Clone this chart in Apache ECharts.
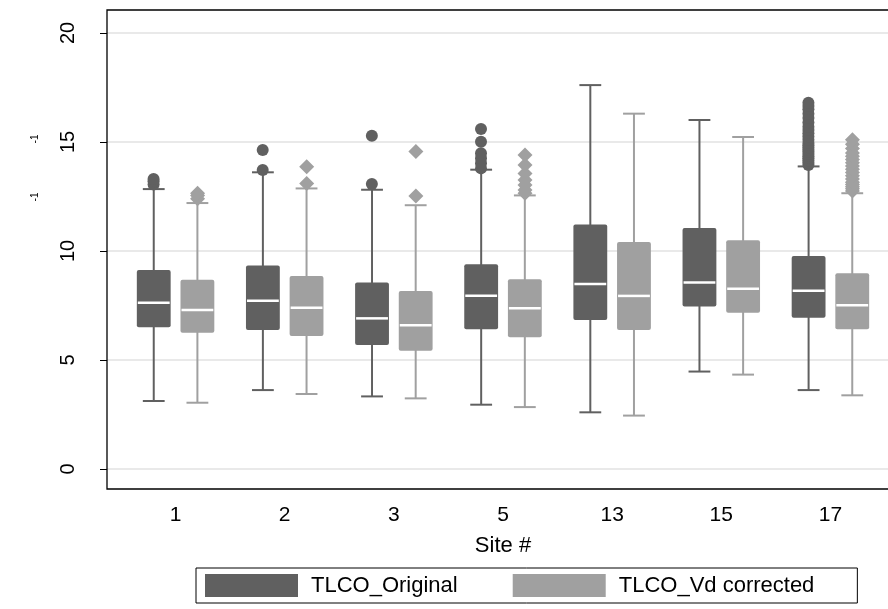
<!DOCTYPE html>
<html lang="en">

<head>
    <meta charset="UTF-8">
    <title>TLCO by site</title>
    <style>
        * {
            margin: 0;
            padding: 0;
        }

        html,
        body {
            height: 100%;
            background: #fff;
        }

        #box {
            width: 888px;
            height: 609px;
        }
    </style>
    <script src="https://cdn.jsdelivr.net/npm/echarts@6/dist/echarts.min.js"></script>
</head>

<body>
    <div id="box"></div>

    <script>
        // site numbers on the x axis
        var sites = ['1', '2', '3', '5', '13', '15', '17'];
        var yTicks = [0, 5, 10, 15, 20];

        // [lower whisker, q1, median, q3, upper whisker]
        var origBox = [
            [3.12, 6.50, 7.63, 9.13, 12.84],
            [3.62, 6.38, 7.72, 9.33, 13.61],
            [3.33, 5.69, 6.91, 8.56, 12.81],
            [2.95, 6.41, 7.95, 9.39, 13.73],
            [2.60, 6.83, 8.49, 11.21, 17.61],
            [4.47, 7.45, 8.56, 11.06, 16.01],
            [3.62, 6.94, 8.18, 9.77, 13.88]
        ];
        var vdBox = [
            [3.04, 6.25, 7.29, 8.68, 12.20],
            [3.44, 6.10, 7.40, 8.85, 12.87],
            [3.24, 5.43, 6.59, 8.17, 12.10],
            [2.84, 6.04, 7.37, 8.70, 12.55],
            [2.45, 6.38, 7.94, 10.41, 16.30],
            [4.33, 7.17, 8.27, 10.49, 15.23],
            [3.38, 6.41, 7.51, 8.98, 12.65]
        ];

        // outside values, one list per site
        var origOut = [
            [13.05, 13.2, 13.3],
            [13.72, 14.63],
            [13.07, 15.29],
            [13.79, 14.02, 14.25, 14.48, 15.01, 15.6],
            [],
            [],
            [13.95, 14.05, 14.15, 14.25, 14.35, 14.45, 14.55, 14.65, 14.75, 14.85, 14.95,
                15.1, 15.25, 15.4, 15.55, 15.7, 15.9, 16.1, 16.3, 16.5, 16.65, 16.8]
        ];
        var vdOut = [
            [12.4, 12.55, 12.65],
            [13.1, 13.87],
            [12.52, 14.56],
            [12.65, 12.8, 13.03, 13.26, 13.56, 13.94, 14.4],
            [],
            [],
            [12.75, 12.85, 12.95, 13.05, 13.15, 13.3, 13.45, 13.6, 13.75, 13.9, 14.05,
                14.2, 14.35, 14.5, 14.7, 14.9, 15.1]
        ];

        var darkGrey = '#606060';
        var lightGrey = '#a0a0a0';
        var font = 'Liberation Sans, Arial, sans-serif';

        function boxData(list) {
            return list.map(function (b, i) {
                return [i, b[0], b[1], b[2], b[3], b[4]];
            });
        }

        function outData(list) {
            var res = [];
            list.forEach(function (vals, i) {
                vals.forEach(function (v) {
                    res.push([i, v]);
                });
            });
            return res;
        }

        // draws one box with whiskers, shifted inside the category band
        function makeRender(shift, color) {
            return function (params, api) {
                var idx = api.value(0);
                var band = api.size([1, 0])[0];
                var x = api.coord([idx, 0])[0] + band * shift;
                var yLo = api.coord([idx, api.value(1)])[1];
                var yQ1 = api.coord([idx, api.value(2)])[1];
                var yMed = api.coord([idx, api.value(3)])[1];
                var yQ3 = api.coord([idx, api.value(4)])[1];
                var yHi = api.coord([idx, api.value(5)])[1];
                var bw = band * 0.31;
                var cw = band * 0.2;
                var line = { stroke: color, lineWidth: 2 };
                return {
                    type: 'group',
                    children: [
                        { type: 'line', shape: { x1: x, y1: yLo, x2: x, y2: yHi }, style: line },
                        { type: 'line', shape: { x1: x - cw / 2, y1: yLo, x2: x + cw / 2, y2: yLo }, style: line },
                        { type: 'line', shape: { x1: x - cw / 2, y1: yHi, x2: x + cw / 2, y2: yHi }, style: line },
                        {
                            type: 'rect',
                            shape: { x: x - bw / 2, y: yQ3, width: bw, height: yQ1 - yQ3, r: 2 },
                            style: { fill: color }
                        },
                        {
                            type: 'line',
                            shape: { x1: x - bw / 2 + 1, y1: yMed, x2: x + bw / 2 - 1, y2: yMed },
                            style: { stroke: '#fff', lineWidth: 2.5 }
                        }
                    ]
                };
            };
        }

        var myChart = echarts.init(document.getElementById('box'));

        myChart.setOption({
            animation: false,
            textStyle: { fontFamily: font },
            grid: [
                { left: 121, right: 3, top: 33, bottom: 140 },
                { left: 107, right: 0, top: 33, bottom: 140 }
            ],
            graphic: [
                {
                    type: 'rect',
                    shape: { x: 107, y: 10, width: 820, height: 479 },
                    style: { fill: 'none', stroke: '#000', lineWidth: 1.3 },
                    z: 10
                },
                {
                    type: 'text', x: 35, y: 139, rotation: Math.PI / 2,
                    style: { text: '-1', fontSize: 10, fill: '#000', fontFamily: font, align: 'center', verticalAlign: 'middle' }
                },
                {
                    type: 'text', x: 35, y: 197, rotation: Math.PI / 2,
                    style: { text: '-1', fontSize: 10, fill: '#000', fontFamily: font, align: 'center', verticalAlign: 'middle' }
                }
            ],
            legend: {
                data: ['TLCO_Original', 'TLCO_Vd corrected'],
                left: 196,
                top: 568,
                padding: [6, 43, 6, 9],
                itemWidth: 93,
                itemHeight: 23,
                itemGap: 55,
                icon: 'rect',
                borderColor: '#000',
                borderWidth: 1,
                textStyle: { fontSize: 22, color: '#000', fontFamily: font, padding: [0, 0, 0, 8] }
            },
            xAxis: [
                {
                    type: 'category',
                    data: sites,
                    gridIndex: 0,
                    offset: 20,
                    axisLine: { show: false },
                    axisTick: { show: false },
                    axisLabel: { fontSize: 21, color: '#000', margin: 16 },
                    name: 'Site #',
                    nameLocation: 'middle',
                    nameGap: 46,
                    nameTextStyle: { fontSize: 22, color: '#000' }
                },
                {
                    type: 'category',
                    data: sites,
                    gridIndex: 1,
                    show: false
                }
            ],
            yAxis: [
                {
                    type: 'value',
                    gridIndex: 0,
                    min: 0,
                    max: 20,
                    interval: 5,
                    show: false
                },
                {
                    type: 'value',
                    gridIndex: 1,
                    min: yTicks[0],
                    max: yTicks[yTicks.length - 1],
                    interval: 5,
                    axisLine: { show: false },
                    axisTick: { show: true, length: 7, lineStyle: { color: '#000' } },
                    axisLabel: { fontSize: 20, color: '#000', rotate: 90, margin: 29 },
                    splitLine: { lineStyle: { color: '#e2e2e2', width: 1.5 } }
                }
            ],
            series: [
                {
                    name: 'TLCO_Original',
                    type: 'custom',
                    itemStyle: { color: darkGrey },
                    encode: { x: 0, y: [1, 2, 3, 4, 5] },
                    renderItem: makeRender(-0.2, darkGrey),
                    data: boxData(origBox)
                },
                {
                    name: 'TLCO_Vd corrected',
                    type: 'custom',
                    itemStyle: { color: lightGrey },
                    encode: { x: 0, y: [1, 2, 3, 4, 5] },
                    renderItem: makeRender(0.2, lightGrey),
                    data: boxData(vdBox)
                },
                {
                    name: 'orig outside',
                    type: 'scatter',
                    symbol: 'circle',
                    symbolSize: 12,
                    symbolOffset: [-22, 0],
                    itemStyle: { color: darkGrey, opacity: 1 },
                    data: outData(origOut)
                },
                {
                    name: 'vd outside',
                    type: 'scatter',
                    symbol: 'diamond',
                    symbolSize: [15, 15],
                    symbolOffset: [22, 0],
                    itemStyle: { color: lightGrey, opacity: 1 },
                    data: outData(vdOut)
                }
            ]
        });

        window.onresize = function () {
            myChart.resize();
        }
    </script>
</body>

</html>
